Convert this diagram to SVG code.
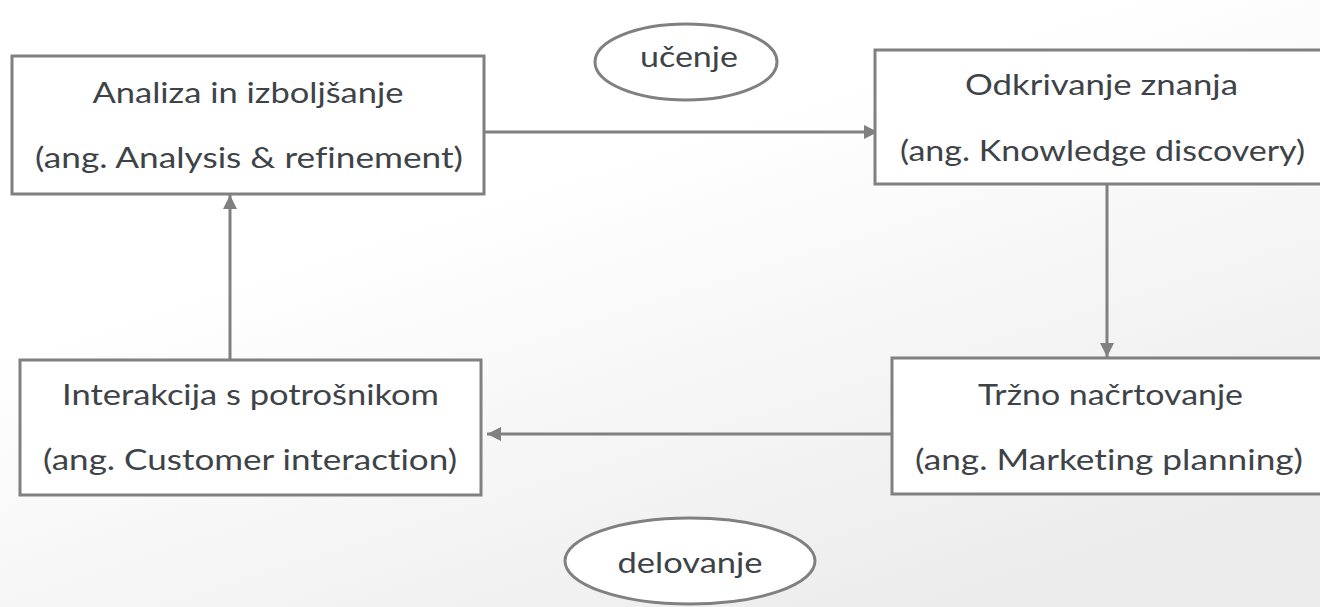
<svg xmlns="http://www.w3.org/2000/svg" width="1320" height="607" viewBox="0 0 1320 607">
  <defs>
    <linearGradient id="bg" x1="0.55" y1="0.2" x2="1" y2="0.85">
      <stop offset="0" stop-color="#ffffff"/>
      <stop offset="1" stop-color="#ebebeb"/>
    </linearGradient>
    <marker id="arrow" viewBox="0 0 14 14" refX="14" refY="7" markerWidth="14" markerHeight="14" markerUnits="userSpaceOnUse" orient="auto">
      <path d="M0,0 L14,7 L0,14 Z" fill="#808080"/>
    </marker>
    <style>
      .box { fill: #ffffff; stroke: #808080; stroke-width: 3; }
      .oval { fill: #ffffff; stroke: #808080; stroke-width: 3; }
      .lbl { font-family: Lato, "Open Sans", "Liberation Sans", sans-serif; font-size: 29px; fill: #3e4348; text-anchor: middle; font-variant-ligatures: none; }
      .conn { stroke: #808080; stroke-width: 3; fill: none; }
    </style>
  </defs>
  <rect x="0" y="0" width="1320" height="607" fill="url(#bg)"/>

  <g id="connectors">
    <line class="conn" x1="484" y1="132" x2="878" y2="132" marker-end="url(#arrow)"/>
    <line class="conn" x1="1107" y1="177" x2="1107" y2="357" marker-end="url(#arrow)"/>
    <line class="conn" x1="895" y1="434" x2="487" y2="434" marker-end="url(#arrow)"/>
    <line class="conn" x1="230" y1="360" x2="230" y2="195" marker-end="url(#arrow)"/>
  </g>

  <g id="node-analiza">
    <rect class="box" x="12" y="56" width="472" height="138"/>
    <text class="lbl" x="248" y="103" textLength="311" lengthAdjust="spacingAndGlyphs">Analiza in izboljšanje</text>
    <text class="lbl" x="249" y="168" textLength="428" lengthAdjust="spacingAndGlyphs">(ang. Analysis &amp; refinement)</text>
  </g>

  <g id="node-odkrivanje">
    <rect class="box" x="875" y="50" width="460" height="134"/>
    <text class="lbl" x="1101.5" y="95" textLength="273" lengthAdjust="spacingAndGlyphs">Odkrivanje znanja</text>
    <text class="lbl" x="1102.5" y="161" textLength="405" lengthAdjust="spacingAndGlyphs">(ang. Knowledge discovery)</text>
  </g>

  <g id="node-trzno">
    <rect class="box" x="892" y="358" width="450" height="136"/>
    <text class="lbl" x="1110.5" y="405" textLength="265" lengthAdjust="spacingAndGlyphs">Tržno načrtovanje</text>
    <text class="lbl" x="1109" y="470" textLength="388" lengthAdjust="spacingAndGlyphs">(ang. Marketing planning)</text>
  </g>

  <g id="node-interakcija">
    <rect class="box" x="20" y="360" width="461" height="135"/>
    <text class="lbl" x="250.5" y="405" textLength="377" lengthAdjust="spacingAndGlyphs">Interakcija s potrošnikom</text>
    <text class="lbl" x="250" y="470" textLength="414" lengthAdjust="spacingAndGlyphs">(ang. Customer interaction)</text>
  </g>

  <g id="node-ucenje">
    <ellipse class="oval" cx="686" cy="62" rx="91" ry="38"/>
    <text class="lbl" x="689" y="67" textLength="98" lengthAdjust="spacingAndGlyphs">učenje</text>
  </g>

  <g id="node-delovanje">
    <ellipse class="oval" cx="690" cy="561" rx="125" ry="43"/>
    <text class="lbl" x="690" y="573" textLength="145" lengthAdjust="spacingAndGlyphs">delovanje</text>
  </g>
</svg>
